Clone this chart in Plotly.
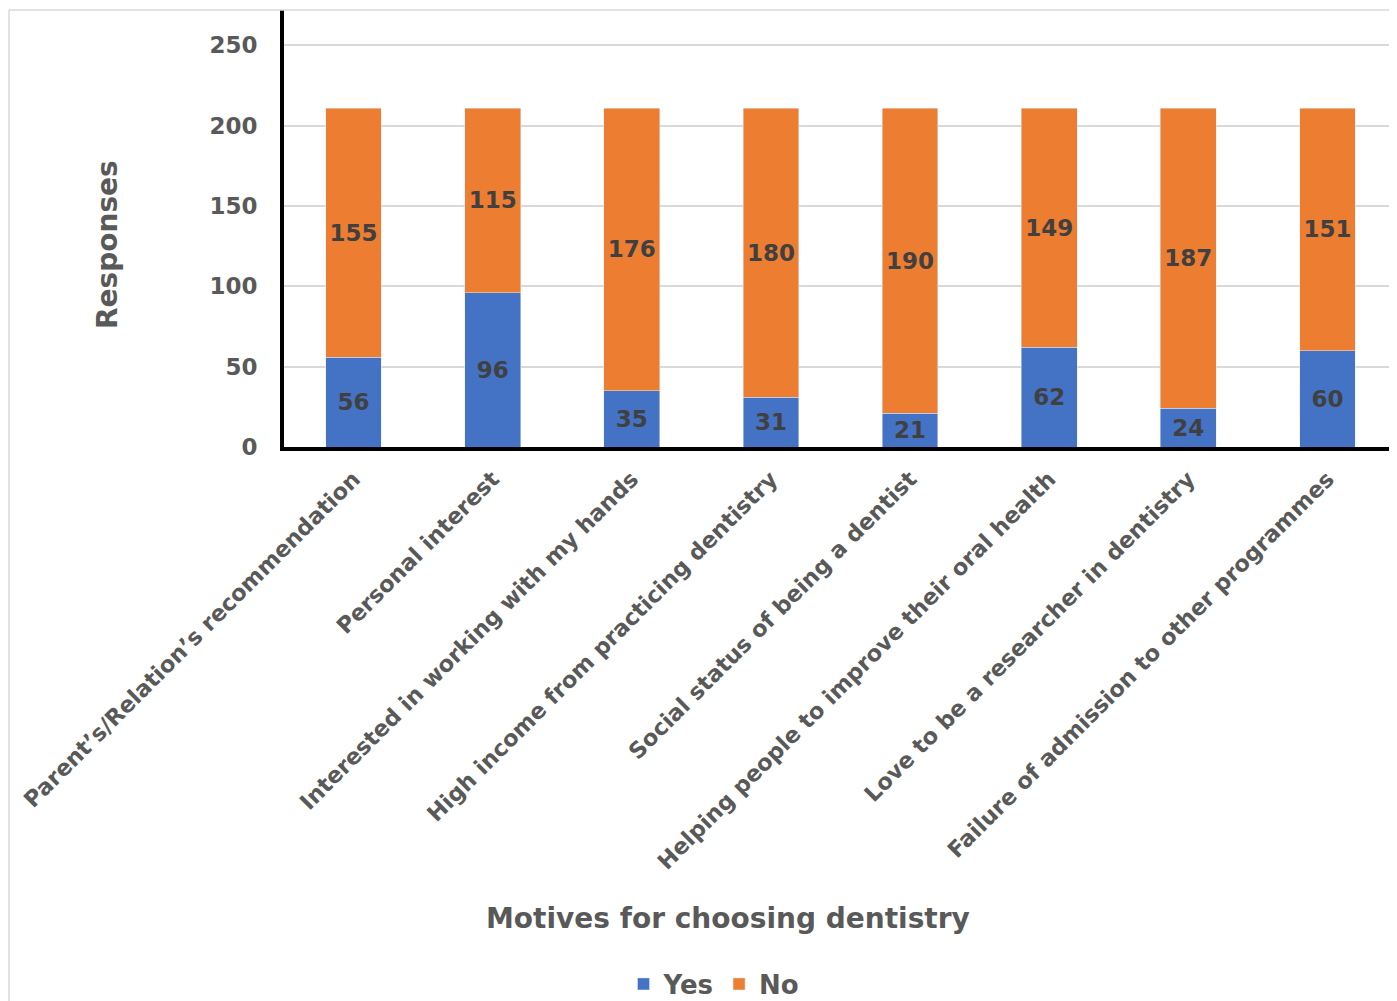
import plotly.graph_objects as go

categories = [
    "Parent’s/Relation’s recommendation",
    "Personal interest",
    "Interested in working with my hands",
    "High income from practicing dentistry",
    "Social status of being a dentist",
    "Helping people to improve their oral health",
    "Love to be a researcher in dentistry",
    "Failure of admission to other programmes",
]
yes_values = [56, 96, 35, 31, 21, 62, 24, 60]
no_values = [155, 115, 176, 180, 190, 149, 187, 151]
y_ticks = [0, 50, 100, 150, 200, 250]

FONT = "DejaVu Sans"
GRAY = "#595959"
LABEL = "#404040"

# plot area geometry (figure pixels)
L, T = 276, 2
PW, PH = 1113, 437
W, H = 1397, 1001

xpos = list(range(len(categories)))

fig = go.Figure()
fig.add_trace(go.Bar(
    name="<b>Yes</b>", x=xpos, y=yes_values, marker_color="#4472C4",
    text=[f"<b>{v}</b>" for v in yes_values], textposition="inside",
    insidetextanchor="middle", textangle=0,
    textfont=dict(family=FONT, size=23, color=LABEL),
))
fig.add_trace(go.Bar(
    name="<b>No</b>", x=xpos, y=no_values, marker_color="#ED7D31",
    text=[f"<b>{v}</b>" for v in no_values], textposition="inside",
    insidetextanchor="middle", textangle=0,
    textfont=dict(family=FONT, size=23, color=LABEL),
))

fig.update_layout(
    width=W, height=H,
    barmode="stack", bargap=0.6,
    plot_bgcolor="white", paper_bgcolor="white",
    margin=dict(l=L, r=W - L - PW, t=T, b=H - T - PH),
    font=dict(family=FONT, color=GRAY),
    uniformtext=dict(mode="show", minsize=10),
    legend=dict(
        orientation="h", x=(706 - L) / PW, xanchor="center", xref="paper",
        y=(T + PH - 976) / PH, yanchor="middle",
        font=dict(family=FONT, size=26, color=GRAY),
        traceorder="normal", itemwidth=30,
    ),
    showlegend=True,
)
fig.update_xaxes(
    tickangle=-45,
    tickvals=xpos, ticktext=[f"<b>{c}</b>" for c in categories],
    tickfont=dict(family=FONT, size=22.5, color=GRAY),
    ticklabelstandoff=6,
    showline=True, linecolor="black", linewidth=4,
    ticks="",
    range=[-0.5, 7.5],
)
fig.update_yaxes(
    range=[0, 272], tickvals=y_ticks,
    ticktext=[f"<b>{t}</b>" for t in y_ticks],
    tickfont=dict(family=FONT, size=23, color=GRAY),
    ticklabelstandoff=18,
    showgrid=True, gridcolor="#D9D9D9", gridwidth=1.5,
    showline=True, linecolor="black", linewidth=4,
    zeroline=False,
)

# axis titles
fig.add_annotation(text="<b>Motives for choosing dentistry</b>", xref="paper", yref="paper",
                   x=(720 - L) / PW, y=(T + PH - 910) / PH, showarrow=False,
                   xanchor="center", yanchor="middle",
                   font=dict(family=FONT, size=28, color=GRAY))
fig.add_annotation(text="<b>Responses</b>", xref="paper", yref="paper",
                   x=(100 - L) / PW, y=(T + PH - 237) / PH, showarrow=False,
                   xanchor="center", yanchor="middle", textangle=-90,
                   font=dict(family=FONT, size=28, color=GRAY))

# light gray outer frame
fx = (1 - L) / PW
fig.add_shape(type="line", xref="paper", yref="paper",
              x0=fx, x1=1.0, y0=1.0, y1=1.0,
              line=dict(color="#D9D9D9", width=1.5))
fig.add_shape(type="line", xref="paper", yref="paper",
              x0=fx, x1=fx, y0=1.0, y1=(T + PH - H) / PH,
              line=dict(color="#D9D9D9", width=1.5))

fig.write_html("out.html")
